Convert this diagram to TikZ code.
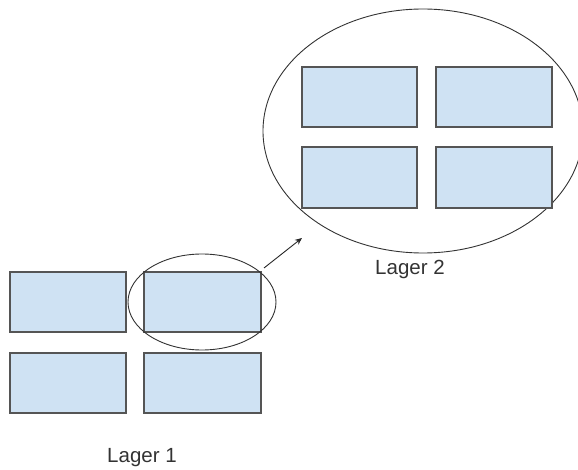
\documentclass[tikz,border=0pt]{standalone}
\usepackage{fontspec}
\setmainfont{Liberation Sans}
\usetikzlibrary{arrows.meta}
\definecolor{boxfill}{HTML}{CFE2F3}
\definecolor{boxline}{HTML}{555555}
\definecolor{txt}{HTML}{333333}
\begin{document}
\begin{tikzpicture}[x=1pt,y=-1pt,
  cell/.style={draw=boxline,fill=boxfill,line width=1.4pt},
  ring/.style={draw=black!80,line width=0.9pt},
  lbl/.style={text=txt,font=\fontsize{20.5}{24}\selectfont,inner sep=0pt}]
\useasboundingbox (0,0) rectangle (578,470);
% lower group (Lager 1)
\draw[cell] (10,272) rectangle (126,332);
\draw[cell] (144,272) rectangle (261,332);
\draw[cell] (10,353) rectangle (126,413);
\draw[cell] (144,353) rectangle (261,413);
\draw[ring] (202,302) ellipse [x radius=74, y radius=48];
\coordinate (s) at (264,268);
\coordinate (e) at (302,238);
\draw[black!85,line width=0.9pt,-{Stealth[length=7pt,width=6pt]}] (s) -- (e);
% upper group (Lager 2)
\draw[ring] (423,131) ellipse [x radius=160, y radius=122];
\draw[cell] (302,67) rectangle (417,127);
\draw[cell] (436,67) rectangle (552,127);
\draw[cell] (302,147) rectangle (417,208);
\draw[cell] (436,147) rectangle (552,208);
\node[lbl,anchor=base] (l2) at (410,275) {Lager 2};
\node[lbl,anchor=base] (l1) at (142,462) {Lager 1};
\end{tikzpicture}
\end{document}
